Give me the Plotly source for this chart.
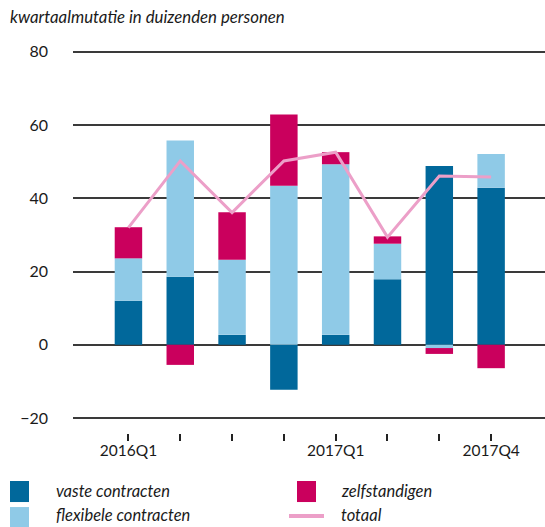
import plotly.graph_objects as go

quarters = ["2016Q1", "2016Q2", "2016Q3", "2016Q4", "2017Q1", "2017Q2", "2017Q3", "2017Q4"]
tick_labels = ["2016Q1", "", "", "", "2017Q1", "", "", "2017Q4"]
vaste = [12.0, 18.6, 2.7, -12.3, 2.7, 17.9, 48.8, 42.9]
flexibel = [11.6, 37.2, 20.5, 43.4, 46.6, 9.7, -0.9, 9.2]
zelfstandig = [8.5, -5.5, 13.0, 19.5, 3.3, 2.0, -1.6, -6.4]
totaal = [32.0, 50.2, 36.1, 50.2, 52.6, 29.4, 46.1, 45.8]
y_ticks = [-20, 0, 20, 40, 60, 80]

C_VASTE = "#01689B"
C_FLEX = "#8FCAE7"
C_ZELF = "#CA005D"
C_TOT = "#EC9FC8"
FONT = "Lato"
TXT = "#1a1a1a"

W, H = 545, 527
L, R, T, B = 73, 545, 50.2, 433
x = list(range(len(quarters)))

fig = go.Figure()
for name, vals, col in [("vaste contracten", vaste, C_VASTE),
                        ("flexibele contracten", flexibel, C_FLEX),
                        ("zelfstandigen", zelfstandig, C_ZELF)]:
    fig.add_trace(go.Bar(x=x, y=vals, name=name, marker=dict(color=col, line=dict(width=0)),
                         width=0.53, showlegend=False))
fig.add_trace(go.Scatter(x=x, y=totaal, name="totaal", mode="lines",
                         line=dict(color=C_TOT, width=3), showlegend=False))

def px(xp):
    return (xp - L) / (R - L)

def py(yp):
    return (B - yp) / (B - T)

shapes = []
annotations = []
# legend
for (x0, x1, y0, y1, col) in [(10, 29, 481, 502, C_VASTE), (10, 29, 507, 527, C_FLEX), (297, 316, 481, 502, C_ZELF)]:
    shapes.append(dict(type="rect", xref="paper", yref="paper", x0=px(x0), x1=px(x1), y0=py(y1), y1=py(y0),
                       fillcolor=col, line=dict(width=0), layer="above"))
shapes.append(dict(type="line", xref="paper", yref="paper", x0=px(289), x1=px(324), y0=py(516), y1=py(516),
                   line=dict(color=C_TOT, width=4)))
for (tx, ty, txt) in [(54, 491, "vaste contracten"), (54, 515, "flexibele contracten"),
                      (339, 491, "zelfstandigen"), (339, 515, "totaal")]:
    annotations.append(dict(xref="paper", yref="paper", x=px(tx), y=py(ty), text=f"<i>{txt}</i>",
                            showarrow=False, xanchor="left", yanchor="middle",
                            font=dict(family=FONT, size=16.5, color=TXT)))
annotations.append(dict(xref="paper", yref="paper", x=px(8), y=py(17), text="<i>kwartaalmutatie in duizenden personen</i>",
                        showarrow=False, xanchor="left", yanchor="middle",
                        font=dict(family=FONT, size=16.8, color=TXT)))

fig.update_layout(
    width=W, height=H,
    margin=dict(l=L, r=W - R, t=T, b=H - B, pad=0),
    barmode="relative",
    plot_bgcolor="white", paper_bgcolor="white",
    font=dict(family=FONT, size=15, color=TXT),
    shapes=shapes, annotations=annotations,
    xaxis=dict(range=[-1.07, 8.04], tickvals=x, ticktext=tick_labels, showgrid=False, zeroline=False,
               showline=False, ticks="outside", ticklen=7, tickwidth=1.5, tickcolor="#222",
               ticklabelstandoff=-4,
               tickfont=dict(family=FONT, size=15.5, color=TXT), fixedrange=True),
    yaxis=dict(range=[-24.1, 80.5], tickvals=y_ticks, showgrid=True, gridcolor="#3a3a3a", gridwidth=1.5,
               zeroline=False, showline=False, ticklabelstandoff=24,
               tickfont=dict(family=FONT, size=16, color=TXT), fixedrange=True),
)
fig.write_html("out.html", config={"displayModeBar": False},
               post_script="document.body.style.margin='0';document.body.style.padding='0';")
